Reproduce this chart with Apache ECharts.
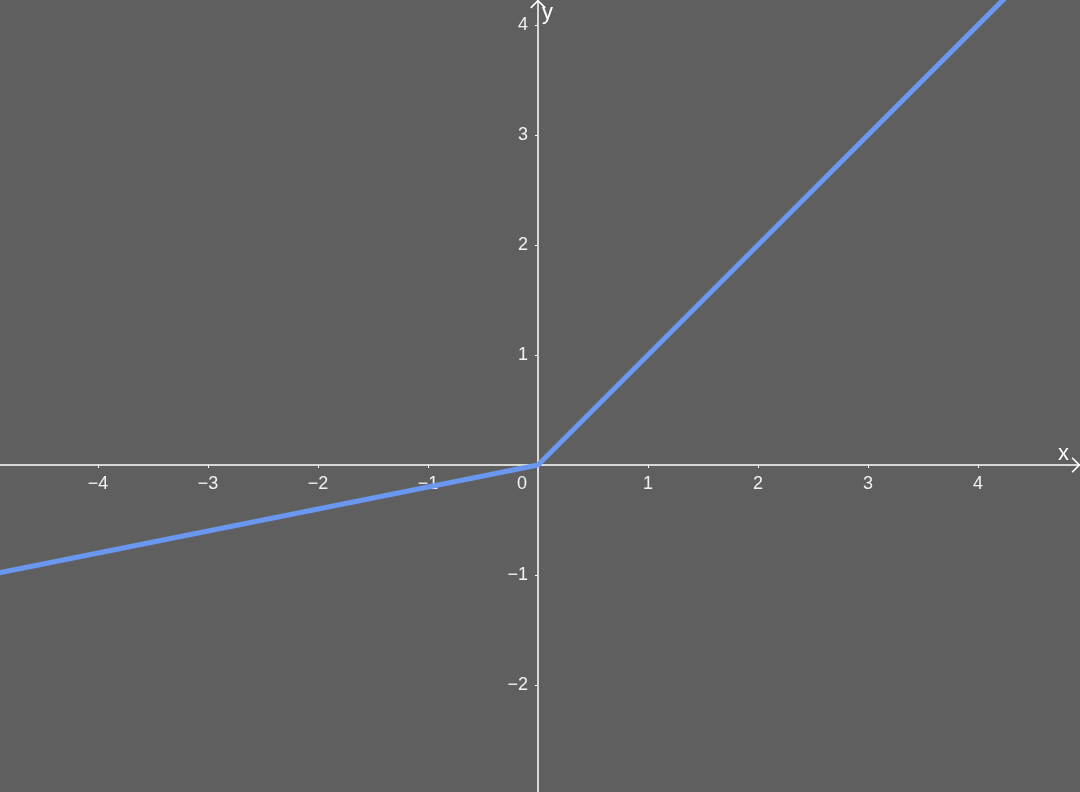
<!DOCTYPE html>
<html lang="en">
<head>
    <meta charset="utf-8">
    <title>Leaky ReLU</title>
    <script src="https://cdn.jsdelivr.net/npm/echarts@6/dist/echarts.min.js"></script>
    <style>
        html, body { margin: 0; padding: 0; background: #5f5f5f; }
        #chart { width: 1080px; height: 792px; }
    </style>
</head>
<body>
<div id="chart"></div>
<script type="text/javascript">
    // curve points (slope 0.2 on the left, 1 on the right)
    var xs = [-4.9, 0, 4.3];
    var ys = [-0.98, 0, 4.3];
    var xTicks = [-4, -3, -2, -1, 0, 1, 2, 3, 4];
    var yTicks = [-2, -1, 1, 2, 3, 4];

    var pts = xs.map(function (x, i) { return [x, ys[i]]; });

    function fmt(v) {
        return v < 0 ? '\u2212' + (-v) : String(v);
    }

    // open chevron pointing up, gets rotated by the axis
    var chevron = 'path://M0,10 L10,0 L20,10 L18.5,11.5 L10,3 L1.5,11.5 Z';
    var font = 'Liberation Sans';

    var myChart = echarts.init(document.getElementById('chart'));
    var option = {
        backgroundColor: '#5f5f5f',
        animation: false,
        grid: { left: 0, right: 0, top: 0, bottom: 0, containLabel: false, outerBoundsMode: 'none' },
        xAxis: {
            type: 'value',
            position: 'bottom',
            offset: 0,
            min: -538 / 110,
            max: 542 / 110,
            name: 'x',
            nameLocation: 'end',
            nameGap: -22,
            nameTextStyle: { color: '#ffffff', fontSize: 22, fontFamily: font, verticalAlign: 'bottom' },
            axisLine: {
                onZero: false,
                lineStyle: { color: '#ffffff', width: 1.5 },
                symbol: ['none', chevron],
                symbolSize: [16, 9],
                symbolOffset: [0, -4]
            },
            axisTick: { show: true, length: 3, customValues: xTicks, lineStyle: { color: '#ffffff' } },
            axisLabel: {
                customValues: xTicks,
                margin: 10,
                color: '#f2f2f2',
                fontSize: 18,
                fontFamily: font,
                formatter: function (v) {
                    if (v === 0) return '{z|0}';
                    return fmt(v);
                },
                rich: { z: { fontSize: 18, fontFamily: font, color: '#f2f2f2', padding: [0, 32, 0, 0] } }
            },
            splitLine: { show: false }
        },
        yAxis: {
            type: 'value',
            position: 'left',
            offset: 0,
            min: -327 / 110,
            max: 465 / 110,
            name: 'y',
            nameLocation: 'end',
            nameGap: -2,
            nameTextStyle: { color: '#ffffff', fontSize: 22, fontFamily: font, verticalAlign: 'top', align: 'left', padding: [0, 0, 0, 4] },
            axisLine: {
                onZero: false,
                lineStyle: { color: '#ffffff', width: 1.5 },
                symbol: ['none', chevron],
                symbolSize: [16, 9],
                symbolOffset: [0, -4]
            },
            axisTick: { show: true, length: 3, customValues: yTicks, lineStyle: { color: '#ffffff' } },
            axisLabel: {
                customValues: yTicks,
                margin: 10,
                color: '#f2f2f2',
                fontSize: 18,
                fontFamily: font,
                padding: [6, 0, 0, 0],
                formatter: fmt
            },
            splitLine: { show: false }
        },
        series: [
            {
                type: 'line',
                data: pts,
                showSymbol: false,
                symbol: 'none',
                clip: true,
                lineStyle: { color: '#6a97ef', width: 5 }
            }
        ]
    };
    myChart.setOption(option);

    // move both axes onto the origin, labels included
    var origin = myChart.convertToPixel({ gridIndex: 0 }, [0, 0]);
    myChart.setOption({
        xAxis: { offset: -(792 - origin[1]) },
        yAxis: { offset: -origin[0] }
    });
</script>
</body>
</html>
